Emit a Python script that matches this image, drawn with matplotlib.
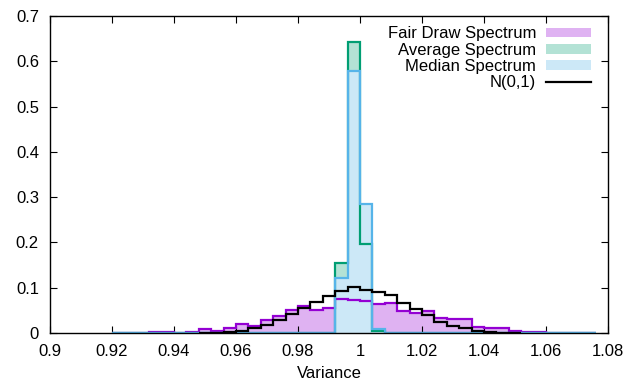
import numpy as np
import matplotlib
matplotlib.use("Agg")
import matplotlib.pyplot as plt
from matplotlib.patches import Patch
from matplotlib.lines import Line2D

plt.rcParams['font.family'] = ['Liberation Sans', 'DejaVu Sans']

# Histogram bins: left edge of first bin and bin width (variance)
bin_start = 0.920
bin_width = 0.004
n_bins = 39

# Fraction of samples per bin
fair_draw = [0, 0, 0, 0.002, 0.002, 0.001, 0.003, 0.009, 0.005, 0.012,
             0.020, 0.016, 0.028, 0.038, 0.051, 0.060, 0.050, 0.056, 0.075, 0.073,
             0.071, 0.064, 0.066, 0.049, 0.044, 0.048, 0.033, 0.030, 0.030, 0.014,
             0.012, 0.011, 0.005, 0.003, 0.002, 0.001, 0.001, 0.001, 0.0008]
average = [0] * 18 + [0.155, 0.642, 0.197, 0.005] + [0] * 17
median = [0] * 18 + [0.121, 0.578, 0.285, 0.009] + [0] * 17
normal = [0, 0, 0, 0, 0, 0, 0, 0, 0.001, 0.002,
          0.005, 0.010, 0.018, 0.029, 0.041, 0.055, 0.068, 0.082, 0.092, 0.101,
          0.095, 0.091, 0.085, 0.067, 0.052, 0.039, 0.025, 0.016, 0.010, 0.005,
          0.002, 0.001, 0, 0, 0, 0, 0, 0, 0]

labels = ["Fair Draw Spectrum", "Average Spectrum", "Median Spectrum", "N(0,1)"]
xticks = [0.9, 0.92, 0.94, 0.96, 0.98, 1.0, 1.02, 1.04, 1.06, 1.08]
xtick_labels = ["0.9", "0.92", "0.94", "0.96", "0.98", "1", "1.02", "1.04", "1.06", "1.08"]
yticks = [0, 0.1, 0.2, 0.3, 0.4, 0.5, 0.6, 0.7]
ytick_labels = ["0", "0.1", "0.2", "0.3", "0.4", "0.5", "0.6", "0.7"]

edges = bin_start + bin_width * np.arange(n_bins + 1)

line_cols = ["#9400d3", "#009e73", "#56b4e9"]
fill_cols = ["#dfb2f2", "#b3e2d5", "#cce8f7"]

FS = 12

fig = plt.figure(figsize=(6.43, 3.83), dpi=100)
ax = fig.add_axes([50 / 643, 1 - 333 / 383, 558 / 643, 317 / 383])

series = [np.array(fair_draw), np.array(average), np.array(median)]
for i, (vals, fc) in enumerate(zip(series, fill_cols)):
    ax.stairs(vals, edges, fill=True, facecolor=fc, edgecolor='none', zorder=1 + i)
for i, (vals, lc) in enumerate(zip(series, line_cols)):
    ax.stairs(vals, edges, baseline=None, color=lc, lw=1.6, zorder=5 + i)

nv = np.array(normal)
nz = np.nonzero(nv)[0]
lo, hi = max(nz[0] - 1, 0), min(nz[-1] + 2, n_bins)
ax.stairs(nv[lo:hi], edges[lo:hi + 1], baseline=None, color='black', lw=1.6, zorder=9)

ax.set_xlim(0.9, 1.08)
ax.set_ylim(0, 0.7)
ax.set_xticks(xticks)
ax.set_xticklabels(xtick_labels)
ax.set_yticks(yticks)
ax.set_yticklabels(ytick_labels)
ax.tick_params(direction='in', length=5, width=0.8, top=True, right=True,
               labelsize=FS, pad=8)
ax.tick_params(axis='y', pad=8)
for s in ax.spines.values():
    s.set_linewidth(1.0)
    s.set_zorder(20)
ax.set_xlabel("Variance", fontsize=FS, labelpad=5)

handles = [Patch(facecolor=fill_cols[0], edgecolor='none'),
           Patch(facecolor=fill_cols[1], edgecolor='none'),
           Patch(facecolor=fill_cols[2], edgecolor='none'),
           Line2D([], [], color='black', lw=1.6)]
leg = ax.legend(handles, labels, loc='upper right', bbox_to_anchor=(0.97, 0.967),
                frameon=False, markerfirst=False, fontsize=FS, handlelength=2.7,
                handleheight=0.5, handletextpad=0.6, labelspacing=0.08, borderpad=0,
                borderaxespad=0)

fig.savefig("out.png", dpi=100)
